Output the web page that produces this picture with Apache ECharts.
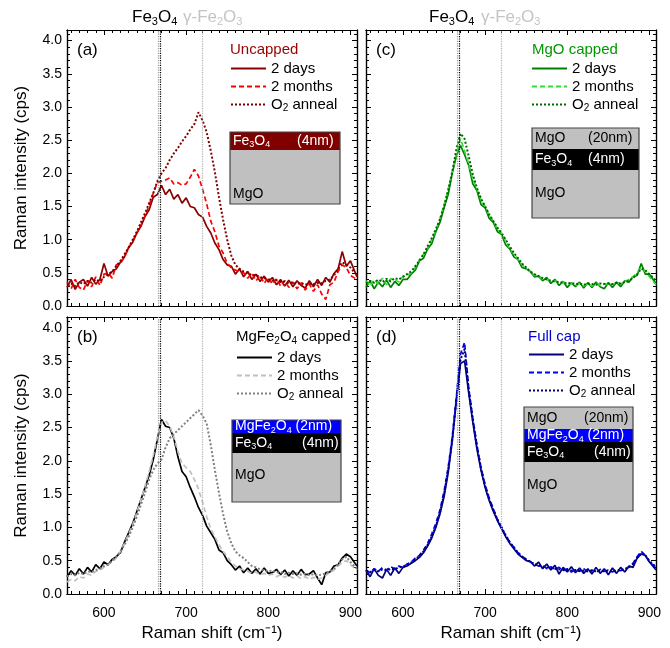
<!DOCTYPE html>
<html>
<head>
<meta charset="utf-8">
<title>Raman spectra</title>
<script src="https://cdn.jsdelivr.net/npm/echarts@6/dist/echarts.min.js"></script>
<style>
  html, body { margin: 0; padding: 0; background: #fff; }
  #chart { width: 670px; height: 648px; }
</style>
</head>
<body>
<div id="chart"></div>
<script>
// Raman shift samples (cm-1), shared by every spectrum
const shift = [
  555, 560, 565, 570, 575, 580, 585, 590, 595, 600,
  605, 610, 615, 620, 625, 630, 635, 640, 645, 650,
  655, 660, 665, 670, 675, 680, 685, 690, 695, 700,
  705, 710, 715, 720, 725, 730, 735, 740, 745, 750,
  755, 760, 765, 770, 775, 780, 785, 790, 795, 800,
  805, 810, 815, 820, 825, 830, 835, 840, 845, 850,
  855, 860, 865, 870, 875, 880, 885, 890, 895, 900,
  908
];

// (a) uncapped
const aDays = [
  0.28, 0.40, 0.25, 0.36, 0.40, 0.30, 0.43, 0.33, 0.40, 0.64,
  0.45, 0.52, 0.56, 0.66, 0.74, 0.88, 0.96, 1.10, 1.20, 1.35,
  1.45, 1.64, 1.68, 1.82, 1.68, 1.76, 1.61, 1.68, 1.55, 1.63,
  1.50, 1.48, 1.38, 1.34, 1.20, 1.10, 0.95, 0.85, 0.70, 0.62,
  0.60, 0.48, 0.56, 0.44, 0.52, 0.40, 0.48, 0.37, 0.45, 0.36,
  0.43, 0.32, 0.40, 0.30, 0.39, 0.29, 0.38, 0.31, 0.27, 0.38,
  0.29, 0.40, 0.31, 0.43, 0.36, 0.49, 0.56, 0.82, 0.60, 0.68,
  0.44
];
const aMonths = [
  0.36, 0.26, 0.40, 0.28, 0.24, 0.38, 0.29, 0.44, 0.31, 0.48,
  0.50, 0.42, 0.62, 0.64, 0.74, 0.88, 0.98, 1.10, 1.22, 1.36,
  1.52, 1.70, 1.86, 1.88, 1.90, 1.93, 1.84, 1.86, 1.82, 1.84,
  1.94, 2.06, 1.96, 1.76, 1.54, 1.28, 1.12, 0.90, 0.80, 0.64,
  0.58, 0.54, 0.52, 0.50, 0.42, 0.49, 0.38, 0.46, 0.34, 0.43,
  0.33, 0.41, 0.30, 0.38, 0.28, 0.36, 0.26, 0.35, 0.24, 0.33,
  0.22, 0.32, 0.18, 0.10, 0.32, 0.36, 0.52, 0.62, 0.58, 0.46,
  0.40
];
const aAnneal = [
  0.32, 0.34, 0.30, 0.36, 0.33, 0.38, 0.35, 0.40, 0.37, 0.44,
  0.48, 0.52, 0.60, 0.68, 0.78, 0.88, 1.00, 1.12, 1.26, 1.40,
  1.55, 1.70, 1.88, 2.00, 2.08, 2.20, 2.30, 2.38, 2.48, 2.56,
  2.66, 2.74, 2.92, 2.80, 2.62, 2.34, 2.02, 1.64, 1.30, 1.00,
  0.76, 0.62, 0.56, 0.52, 0.50, 0.46, 0.47, 0.43, 0.42, 0.40,
  0.38, 0.39, 0.36, 0.37, 0.34, 0.36, 0.33, 0.35, 0.32, 0.34,
  0.33, 0.35, 0.34, 0.38, 0.40, 0.46, 0.56, 0.66, 0.62, 0.58,
  0.46
];

// (c) MgO capped
const cDays = [
  0.28, 0.38, 0.26, 0.36, 0.29, 0.39, 0.28, 0.37, 0.31, 0.40,
  0.40, 0.48, 0.54, 0.68, 0.72, 0.86, 0.94, 1.12, 1.26, 1.48,
  1.68, 2.00, 2.26, 2.42, 2.28, 2.12, 1.84, 1.74, 1.53, 1.48,
  1.32, 1.26, 1.12, 1.08, 0.92, 0.86, 0.74, 0.70, 0.58, 0.56,
  0.52, 0.44, 0.45, 0.38, 0.43, 0.34, 0.40, 0.31, 0.37, 0.28,
  0.35, 0.29, 0.36, 0.27, 0.35, 0.28, 0.36, 0.29, 0.26, 0.35,
  0.28, 0.36, 0.29, 0.38, 0.36, 0.44, 0.46, 0.64, 0.48, 0.48,
  0.34
];
const cMonths = [
  0.38, 0.30, 0.40, 0.33, 0.42, 0.32, 0.41, 0.40, 0.36, 0.45,
  0.46, 0.50, 0.58, 0.70, 0.78, 0.88, 1.00, 1.14, 1.32, 1.52,
  1.76, 2.02, 2.30, 2.52, 2.34, 2.14, 1.92, 1.76, 1.60, 1.50,
  1.36, 1.28, 1.16, 1.10, 0.98, 0.86, 0.78, 0.70, 0.62, 0.56,
  0.52, 0.46, 0.46, 0.40, 0.40, 0.37, 0.38, 0.34, 0.36, 0.33,
  0.34, 0.31, 0.34, 0.30, 0.33, 0.30, 0.35, 0.31, 0.34, 0.32,
  0.32, 0.36, 0.33, 0.37, 0.40, 0.44, 0.50, 0.58, 0.52, 0.44,
  0.32
];
const cAnneal = [
  0.34, 0.38, 0.35, 0.40, 0.36, 0.41, 0.37, 0.42, 0.40, 0.44,
  0.48, 0.52, 0.60, 0.68, 0.78, 0.90, 1.02, 1.16, 1.30, 1.50,
  1.74, 2.02, 2.36, 2.60, 2.52, 2.26, 1.98, 1.78, 1.62, 1.50,
  1.38, 1.28, 1.18, 1.10, 1.00, 0.90, 0.80, 0.72, 0.64, 0.58,
  0.52, 0.48, 0.45, 0.42, 0.40, 0.38, 0.37, 0.36, 0.35, 0.34,
  0.35, 0.33, 0.34, 0.32, 0.34, 0.33, 0.32, 0.34, 0.33, 0.34,
  0.33, 0.35, 0.34, 0.36, 0.38, 0.42, 0.48, 0.56, 0.54, 0.48,
  0.38
];

// (b) MgFe2O4 capped
const bDays = [
  0.26, 0.35, 0.28, 0.38, 0.30, 0.40, 0.33, 0.44, 0.38, 0.48,
  0.44, 0.52, 0.56, 0.62, 0.78, 0.92, 1.06, 1.24, 1.42, 1.60,
  1.78, 2.02, 2.32, 2.62, 2.52, 2.50, 2.34, 2.06, 1.84, 1.76,
  1.60, 1.46, 1.30, 1.18, 1.02, 0.92, 0.82, 0.66, 0.62, 0.50,
  0.44, 0.36, 0.42, 0.32, 0.39, 0.31, 0.38, 0.30, 0.39, 0.31,
  0.32, 0.37, 0.29, 0.36, 0.27, 0.35, 0.28, 0.37, 0.29, 0.30,
  0.35, 0.24, 0.14, 0.32, 0.33, 0.42, 0.44, 0.54, 0.60, 0.56,
  0.42
];
const bMonths = [
  0.18, 0.22, 0.20, 0.26, 0.24, 0.30, 0.28, 0.34, 0.36, 0.40,
  0.44, 0.48, 0.54, 0.64, 0.76, 0.90, 1.04, 1.22, 1.42, 1.62,
  1.84, 2.08, 2.36, 2.58, 2.60, 2.52, 2.36, 2.14, 1.96, 1.90,
  1.84, 1.72, 1.58, 1.38, 1.16, 0.98, 0.86, 0.74, 0.64, 0.56,
  0.48, 0.42, 0.38, 0.36, 0.34, 0.31, 0.33, 0.29, 0.31, 0.28,
  0.30, 0.26, 0.29, 0.25, 0.28, 0.24, 0.27, 0.23, 0.26, 0.22,
  0.25, 0.22, 0.24, 0.28, 0.32, 0.36, 0.42, 0.48, 0.50, 0.44,
  0.36
];
const bAnneal = [
  0.26, 0.30, 0.28, 0.32, 0.30, 0.34, 0.33, 0.36, 0.38, 0.42,
  0.44, 0.50, 0.56, 0.64, 0.74, 0.86, 1.00, 1.16, 1.34, 1.52,
  1.72, 1.86, 1.96, 2.02, 2.20, 2.34, 2.40, 2.46, 2.52, 2.58,
  2.64, 2.70, 2.76, 2.68, 2.56, 2.24, 1.86, 1.52, 1.20, 0.94,
  0.76, 0.64, 0.58, 0.54, 0.48, 0.42, 0.40, 0.37, 0.36, 0.34,
  0.35, 0.32, 0.33, 0.30, 0.32, 0.30, 0.31, 0.29, 0.30, 0.28,
  0.30, 0.28, 0.29, 0.31, 0.34, 0.38, 0.44, 0.52, 0.56, 0.48,
  0.38
];

// (d) full cap
const dDays = [
  0.36, 0.26, 0.38, 0.28, 0.24, 0.37, 0.28, 0.39, 0.31, 0.40,
  0.42, 0.46, 0.50, 0.55, 0.62, 0.72, 0.84, 1.00, 1.20, 1.46,
  1.82, 2.30, 2.90, 3.46, 3.50, 3.02, 2.58, 2.18, 1.86, 1.60,
  1.40, 1.24, 1.10, 0.98, 0.86, 0.76, 0.68, 0.60, 0.55, 0.50,
  0.49, 0.42, 0.48, 0.38, 0.45, 0.36, 0.43, 0.30, 0.40, 0.33,
  0.41, 0.32, 0.39, 0.31, 0.38, 0.30, 0.40, 0.31, 0.38, 0.29,
  0.39, 0.31, 0.40, 0.33, 0.42, 0.40, 0.54, 0.60, 0.58, 0.48,
  0.36
];
const dMonths = [
  0.36, 0.32, 0.38, 0.34, 0.40, 0.36, 0.41, 0.38, 0.42, 0.40,
  0.45, 0.48, 0.54, 0.58, 0.66, 0.76, 0.90, 1.06, 1.26, 1.54,
  1.90, 2.36, 2.96, 3.60, 3.78, 3.10, 2.64, 2.24, 1.90, 1.64,
  1.44, 1.28, 1.12, 1.00, 0.88, 0.78, 0.70, 0.62, 0.57, 0.52,
  0.48, 0.45, 0.42, 0.44, 0.38, 0.41, 0.37, 0.40, 0.35, 0.38,
  0.33, 0.37, 0.34, 0.38, 0.33, 0.36, 0.32, 0.37, 0.34, 0.36,
  0.33, 0.37, 0.35, 0.38, 0.40, 0.46, 0.56, 0.64, 0.58, 0.48,
  0.40
];
const dAnneal = [
  0.35, 0.33, 0.36, 0.34, 0.37, 0.35, 0.38, 0.37, 0.40, 0.41,
  0.44, 0.47, 0.52, 0.57, 0.64, 0.74, 0.86, 1.02, 1.22, 1.50,
  1.86, 2.32, 2.92, 3.52, 3.68, 3.06, 2.62, 2.22, 1.88, 1.62,
  1.42, 1.26, 1.12, 1.00, 0.88, 0.78, 0.70, 0.62, 0.56, 0.52,
  0.48, 0.45, 0.43, 0.41, 0.40, 0.39, 0.38, 0.37, 0.36, 0.36,
  0.35, 0.36, 0.35, 0.35, 0.34, 0.35, 0.34, 0.35, 0.34, 0.35,
  0.34, 0.35, 0.36, 0.37, 0.40, 0.45, 0.54, 0.62, 0.58, 0.50,
  0.40
];

const seriesLabels = ['2 days', '2 months', 'O{s|2} anneal'];
// Fe3O4 / gamma-Fe2O3 reference positions (cm-1)
const refShift = [666, 668, 720];
const xMajor = [600, 700, 800, 900];
const yMajor = [0, 0.5, 1, 1.5, 2, 2.5, 3, 3.5, 4];
const xMinor = [];
for (let v = 560; v <= 900; v += 10) if (v % 100) xMinor.push(v);
const yMinor = [];
for (let i = 1; i <= 41; i++) if (i % 5) yMinor.push(i / 10);

const FONT = '"Liberation Sans", Arial, sans-serif';
const X_MIN = 555, X_MAX = 908, Y_MIN = 0, Y_MAX = 4.16;
const refColors = ['#9a9a9a', '#000', '#b0b0b0'];
const dashes = ['solid', [5, 3], [2, 2]];

const panels = [
  { tag: 'a', title: 'Uncapped', titleColor: '#990000', data: [aDays, aMonths, aAnneal],
    colors: ['#8b0000', '#ff0000', '#800000'],
    grid: { left: 67, top: 30, width: 290, height: 276 }, legend: [230, 61], head: [230, 50] },
  { tag: 'c', title: 'MgO capped', titleColor: '#009900', data: [cDays, cMonths, cAnneal],
    colors: ['#008000', '#33dd33', '#006600'],
    grid: { left: 366, top: 30, width: 290, height: 276 }, legend: [531, 61], head: [532, 50] },
  { tag: 'b', title: 'MgFe{s|2}O{s|4} capped', titleColor: '#000', data: [bDays, bMonths, bAnneal],
    colors: ['#000000', '#c0c0c0', '#808080'],
    grid: { left: 67, top: 317, width: 290, height: 277 }, legend: [236, 350], head: [236, 337] },
  { tag: 'd', title: 'Full cap', titleColor: '#0000cc', data: [dDays, dMonths, dAnneal],
    colors: ['#000080', '#0000ff', '#000066'],
    grid: { left: 366, top: 317, width: 290, height: 277 }, legend: [528, 347], head: [528, 337] }
];

// subscript style for rich text
const sub = (size, pad) => ({ s: { fontSize: size, fontFamily: FONT, padding: [pad, 0, 0, 0] } });

const axisLine = { show: true, onZero: false, lineStyle: { color: '#000', width: 1.2 } };
const tickLine = { color: '#000', width: 1 };

function makeXAxes(g, labels) {
  const base = { gridIndex: g, type: 'value', min: X_MIN, max: X_MAX,
    splitLine: { show: false }, axisLine, axisLabel: { show: false } };
  const major = { inside: true, length: 5, customValues: xMajor, lineStyle: tickLine };
  const minor = { inside: true, length: 3, customValues: xMinor, lineStyle: tickLine };
  return [
    Object.assign({}, base, { position: 'bottom', axisTick: major,
      axisLabel: { show: labels, customValues: xMajor, fontSize: 14, color: '#000', fontFamily: FONT, margin: 12 },
      name: labels ? 'Raman shift (cm⁻¹)' : '', nameLocation: 'middle', nameGap: 31,
      nameTextStyle: { fontSize: 17, color: '#000', fontFamily: FONT } }),
    Object.assign({}, base, { position: 'bottom', axisTick: minor }),
    Object.assign({}, base, { position: 'top', axisTick: major }),
    Object.assign({}, base, { position: 'top', axisTick: minor })
  ];
}

function makeYAxes(g, labels) {
  const base = { gridIndex: g, type: 'value', min: Y_MIN, max: Y_MAX,
    splitLine: { show: false }, axisLine, axisLabel: { show: false } };
  const major = { inside: true, length: 5, customValues: yMajor, lineStyle: tickLine };
  const minor = { inside: true, length: 3, customValues: yMinor, lineStyle: tickLine };
  return [
    Object.assign({}, base, { position: 'left', axisTick: major,
      axisLabel: { show: labels, customValues: yMajor, fontSize: 14, color: '#000', fontFamily: FONT, margin: 5,
        formatter: v => v.toFixed(1) },
      name: labels ? 'Raman intensity (cps)' : '', nameLocation: 'middle', nameGap: 37,
      nameTextStyle: { fontSize: 17, color: '#000', fontFamily: FONT } }),
    Object.assign({}, base, { position: 'left', axisTick: minor }),
    Object.assign({}, base, { position: 'right', axisTick: major }),
    Object.assign({}, base, { position: 'right', axisTick: minor })
  ];
}

const xAxis = [], yAxis = [], series = [], legend = [];
panels.forEach((p, g) => {
  xAxis.push(...makeXAxes(g, g >= 2));
  yAxis.push(...makeYAxes(g, g % 2 === 0));
  p.data.forEach((arr, k) => {
    const s = {
      name: p.tag + '|' + seriesLabels[k],
      type: 'line',
      xAxisIndex: 4 * g,
      yAxisIndex: 4 * g,
      data: shift.map((x, i) => [x, arr[i]]),
      symbol: 'none',
      animation: false,
      lineStyle: { color: p.colors[k], width: k === 2 ? 2 : 1.7, type: dashes[k] },
      itemStyle: { color: p.colors[k] }
    };
    if (k === 0) {
      s.markLine = {
        silent: true, symbol: ['none', 'none'], animation: false, label: { show: false },
        data: refShift.map((x, i) => ({ xAxis: x, lineStyle: { color: refColors[i], type: 'dotted', width: 1.2 } }))
      };
    }
    series.push(s);
  });
  legend.push({
    data: seriesLabels.map(l => p.tag + '|' + l),
    left: p.legend[0], top: p.legend[1],
    orient: 'vertical', itemWidth: 35, itemHeight: 12, itemGap: 3,
    selectedMode: false, padding: 0,
    itemStyle: { color: 'rgba(0,0,0,0)', borderColor: 'rgba(0,0,0,0)', borderWidth: 0, opacity: 0 },
    formatter: name => name.slice(name.indexOf('|') + 1),
    textStyle: { fontSize: 15, color: '#000', fontFamily: FONT, rich: sub(10, 8) }
  });
});

// annotation text helper (rich text keeps the chemical subscripts)
const txt = (x, y, text, size, color) => ({
  type: 'text', x, y, silent: true, z: 100,
  style: { text, fill: color || '#000', fontSize: size, fontFamily: FONT, verticalAlign: 'middle',
    rich: sub(Math.round(size * 0.66), Math.round(size * 0.55)) }
});

const graphics = [];
// top labels
[[132, 183], [429, 481]].forEach(([x1, x2]) => {
  graphics.push(txt(x1, 17, 'Fe{s|3}O{s|4}', 17, '#000'));
  graphics.push(txt(x2, 17, 'γ-Fe{s|2}O{s|3}', 17, '#c4c4c4'));
});
panels.forEach(p => {
  graphics.push(txt(p.grid.left + 10, p.head[1], '(' + p.tag + ')', 17, '#000'));
  graphics.push(txt(p.head[0], p.head[1], p.title, 15, p.titleColor));
});

// layer stack sketches
const stacks = [
  { x: 230, y: 132, w: 110, layers: [
    { h: 18, fill: '#800000', color: '#fff', name: 'Fe{s|3}O{s|4}', size: '(4nm)', sizeX: 67 },
    { h: 54, fill: '#c0c0c0', color: '#000', name: 'MgO', dy: 44 } ] },
  { x: 532, y: 128, w: 107, layers: [
    { h: 21, fill: '#c0c0c0', color: '#000', name: 'MgO', size: '(20nm)', sizeX: 56 },
    { h: 21, fill: '#000', color: '#fff', name: 'Fe{s|3}O{s|4}', size: '(4nm)', sizeX: 56 },
    { h: 48, fill: '#c0c0c0', color: '#000', name: 'MgO', dy: 23 } ] },
  { x: 232, y: 420, w: 109, layers: [
    { h: 13, fill: '#0000ff', color: '#fff', name: 'MgFe{s|2}O{s|4} (2nm)' },
    { h: 20, fill: '#000', color: '#fff', name: 'Fe{s|3}O{s|4}', size: '(4nm)', sizeX: 70 },
    { h: 49, fill: '#c0c0c0', color: '#000', name: 'MgO', dy: 22 } ] },
  { x: 524, y: 407, w: 109, layers: [
    { h: 22, fill: '#c0c0c0', color: '#000', name: 'MgO', size: '(20nm)', sizeX: 60 },
    { h: 13, fill: '#0000ff', color: '#fff', name: 'MgFe{s|2}O{s|4} (2nm)' },
    { h: 20, fill: '#000', color: '#fff', name: 'Fe{s|3}O{s|4}', size: '(4nm)', sizeX: 70 },
    { h: 49, fill: '#c0c0c0', color: '#000', name: 'MgO', dy: 23 } ] }
];
stacks.forEach(st => {
  let y = st.y;
  st.layers.forEach(l => {
    graphics.push({ type: 'rect', silent: true, z: 90, shape: { x: st.x, y, width: st.w, height: l.h }, style: { fill: l.fill } });
    const ty = y + (l.dy != null ? l.dy : l.h / 2);
    graphics.push(txt(st.x + 3, ty, l.name, 14, l.color));
    if (l.size) graphics.push(txt(st.x + l.sizeX, ty, l.size, 14, l.color));
    y += l.h;
  });
  graphics.push({ type: 'rect', silent: true, z: 95, shape: { x: st.x, y: st.y, width: st.w, height: y - st.y },
    style: { fill: 'none', stroke: '#444', lineWidth: 1.2 } });
});

const chart = echarts.init(document.getElementById('chart'), null, { renderer: 'canvas' });
chart.setOption({
  backgroundColor: '#fff',
  animation: false,
  grid: panels.map(p => Object.assign({ containLabel: false }, p.grid)),
  xAxis, yAxis, series, legend,
  graphic: { elements: graphics }
});
</script>
</body>
</html>
